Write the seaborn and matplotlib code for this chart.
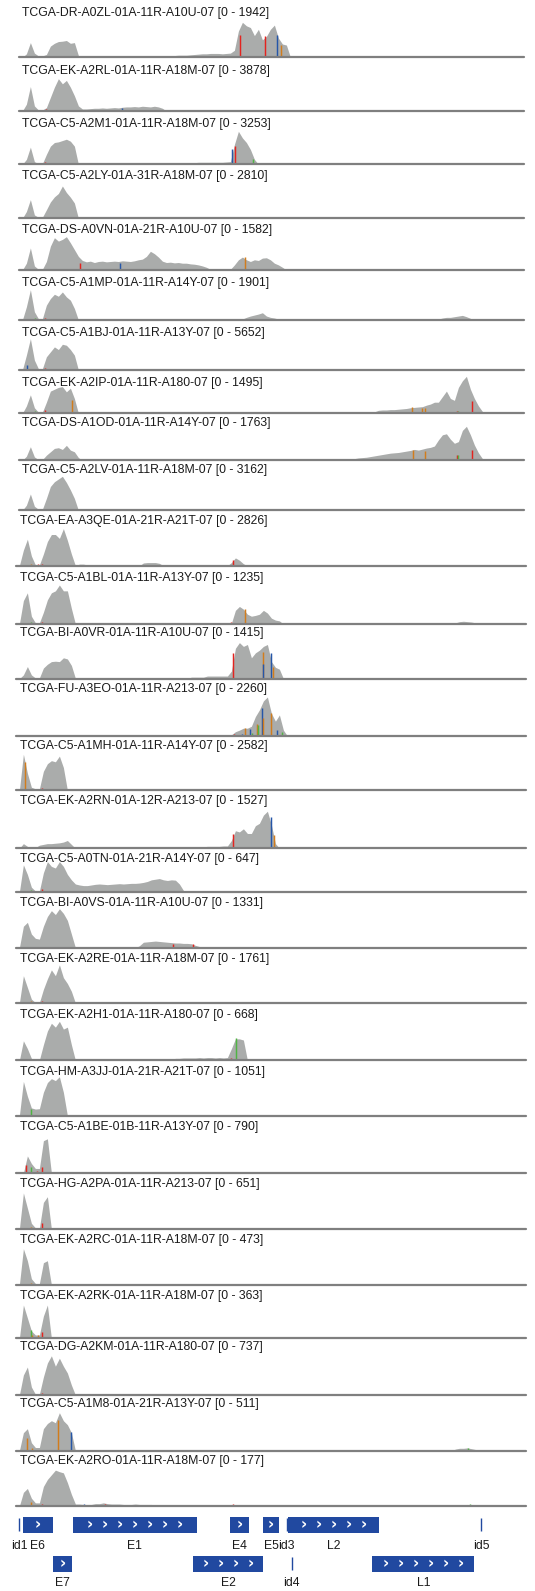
import numpy as np
import pandas as pd
import matplotlib
matplotlib.use("Agg")
import matplotlib.pyplot as plt
import seaborn as sns

sns.set_theme(style="white")
plt.rcParams['font.family'] = ['Liberation Sans', 'DejaVu Sans']

# ---------------------------------------------------------------- data
GENOME_LEN = 7906          # HPV16 genome length (bp)
BIN_BP = 62.64             # coverage bin width (bp)

TRACK_NAMES = [
    "TCGA-DR-A0ZL-01A-11R-A10U-07", "TCGA-EK-A2RL-01A-11R-A18M-07",
    "TCGA-C5-A2M1-01A-11R-A18M-07", "TCGA-C5-A2LY-01A-31R-A18M-07",
    "TCGA-DS-A0VN-01A-21R-A10U-07", "TCGA-C5-A1MP-01A-11R-A14Y-07",
    "TCGA-C5-A1BJ-01A-11R-A13Y-07", "TCGA-EK-A2IP-01A-11R-A180-07",
    "TCGA-DS-A1OD-01A-11R-A14Y-07", "TCGA-C5-A2LV-01A-11R-A18M-07",
    "TCGA-EA-A3QE-01A-21R-A21T-07", "TCGA-C5-A1BL-01A-11R-A13Y-07",
    "TCGA-BI-A0VR-01A-11R-A10U-07", "TCGA-FU-A3EO-01A-11R-A213-07",
    "TCGA-C5-A1MH-01A-11R-A14Y-07", "TCGA-EK-A2RN-01A-12R-A213-07",
    "TCGA-C5-A0TN-01A-21R-A14Y-07", "TCGA-BI-A0VS-01A-11R-A10U-07",
    "TCGA-EK-A2RE-01A-11R-A18M-07", "TCGA-EK-A2H1-01A-11R-A180-07",
    "TCGA-HM-A3JJ-01A-21R-A21T-07", "TCGA-C5-A1BE-01B-11R-A13Y-07",
    "TCGA-HG-A2PA-01A-11R-A213-07", "TCGA-EK-A2RC-01A-11R-A18M-07",
    "TCGA-EK-A2RK-01A-11R-A18M-07", "TCGA-DG-A2KM-01A-11R-A180-07",
    "TCGA-C5-A1M8-01A-21R-A13Y-07", "TCGA-EK-A2RO-01A-11R-A18M-07",
]
TRACK_MAX = [1942, 3878, 3253, 2810, 1582, 1901, 5652, 1495, 1763, 3162,
             2826, 1235, 1415, 2260, 2582, 1527, 647, 1331, 1761, 668,
             1051, 790, 651, 473, 363, 737, 511, 177]

# coverage in % of the track data range, as runs (first bin index, values)
cov_01 = [(0, [0, 10, 42, 12, 4, 4, 8, 32, 40, 45, 46, 48, 40, 42, 5,
               1, 1, 1, 1, 1, 1, 1, 1, 1, 1, 1, 1, 1, 1, 1, 1, 1,
               3, 4, 4, 4, 5, 5, 5, 6, 6, 6, 7, 8, 9,
               10, 10, 11, 11, 11, 10, 11, 12,
               20, 75, 100, 90, 85, 62, 80, 50, 60, 80, 92, 55, 38, 35])]
cov_02 = [(0, [0, 20, 72, 15, 3, 3, 10, 40, 70, 95, 80, 90, 70, 45, 15,
               6, 6, 7, 8, 8, 9, 8, 9, 10, 9, 11, 12, 12, 13, 12, 14, 13, 12, 14, 12, 8])]
cov_03 = [(0, [0, 15, 52, 8, 2, 2, 30, 55, 66, 68, 72, 76, 70, 55]),
          (30, [3, 3, 4, 4, 4, 4, 3, 4, 4, 4, 5, 4, 4,
                5, 6, 6, 6, 6, 6, 6, 6, 7, 8,
                60, 100, 80, 66, 45, 15])]
cov_04 = [(0, [0, 20, 55, 10, 3, 3, 25, 48, 63, 73, 95, 76, 62, 45])]
cov_05 = [(0, [0, 20, 65, 12, 2, 2, 25, 70, 95, 85, 90, 98, 80, 60, 40,
               28, 24, 26, 22, 25, 26, 24, 25, 26, 25, 27, 26, 25, 27, 30,
               32, 40, 55, 48, 38, 26, 22, 23, 21, 22, 20, 20, 18, 17, 15, 12, 8,
               2, 2, 2, 2, 2, 2,
               15, 30, 38, 30, 25, 30, 28, 35, 36, 30, 20, 15, 8])]
cov_06 = [(0, [0, 40, 92, 25, 4, 4, 45, 65, 78, 72, 85, 70, 60, 35]),
          (55, [3, 8, 12, 15, 18, 22, 12, 8, 6, 3]),
          (89, [2, 2, 1, 2, 2, 2, 1, 2, 2, 2, 2, 3, 2, 2, 3, 3,
                6, 8, 8, 10, 12, 14, 10, 5])]
cov_07 = [(0, [0, 45, 95, 30, 4, 4, 40, 55, 70, 62, 78, 75, 62, 45])]
cov_08 = [(0, [0, 20, 50, 15, 3, 3, 30, 60, 65, 70, 72, 58, 68, 40]),
          (88, [4, 8, 9, 9, 10, 10, 11, 12, 13, 15, 16, 17, 18, 22, 25, 30,
                30, 45, 60, 40, 35, 70, 88, 100, 65, 40, 20, 5])]
cov_09 = [(0, [0, 12, 40, 10, 2, 2, 15, 25, 35, 37, 32, 44, 30, 25, 8]),
          (67, [1, 1, 1, 1, 2, 1, 1, 2, 1, 1, 2, 2, 1, 2, 2]),
          (82, [4, 5, 7, 8, 9, 11, 13, 15, 17, 19, 21, 22, 23, 25, 27, 29, 32,
                30, 33, 36, 38, 42, 60, 75, 78, 62, 50, 55, 88, 100, 75, 45, 22, 5])]
cov_10 = [(0, [0, 15, 48, 12, 3, 3, 35, 70, 84, 92, 100, 82, 60, 35]),
          (33, [2])]
cov_11 = [(0, [0, 40, 68, 25, 2, 2, 30, 62, 80, 80, 70, 95, 65, 30]),
          (15, [4, 4, 2, 0, 3, 3]), (31, [7, 8, 8, 8, 6]), (38, [2]),
          (43, [2]), (53, [8, 20, 14, 5])]
cov_12 = [(0, [0, 60, 80, 20, 3, 3, 30, 62, 80, 85, 100, 85, 85, 40]),
          (43, [2, 2, 2, 2, 2, 2, 2, 2, 2, 2, 2]),
          (54, [35, 45, 38, 25, 20, 22, 25, 35, 28, 15, 10, 8]),
          (79, [2, 2, 2, 1]),
          (87, [3, 3, 2, 3, 3, 3, 3, 3, 2, 3, 3, 3, 3, 3, 3, 3, 2, 3, 3, 3, 3, 3, 3,
                6, 7, 6, 5, 3, 2])]
cov_13 = [(0, [0, 10, 32, 10, 2, 2, 28, 38, 45, 46, 45, 55, 52, 35]),
          (14, [1, 1, 1, 1, 1, 1, 1, 1, 1, 1, 1, 1, 1, 1, 1, 1, 1, 1, 1, 1,
                1, 1, 1, 1, 1, 1, 1, 1, 1]),
          (43, [4, 4, 4, 4, 7, 7, 7, 7, 7, 7]),
          (53, [20, 80, 95, 85, 90, 55, 68, 75, 85, 90, 45, 30, 25])]
cov_14 = [(10, [2, 2, 2, 2]),
          (53, [3, 11, 15, 20, 20, 25, 50, 67, 90, 100, 58, 38, 54, 15])]
cov_15 = [(0, [0, 95, 45, 8, 4, 4, 50, 70, 78, 75, 90, 60])]
cov_16 = [(1, [12, 5, 0, 2, 8, 10, 12, 12, 13, 14, 16, 20, 10]),
          (25, [1, 1, 1, 1, 1, 1, 1, 1, 1, 1, 1, 1, 1]),
          (38, [3, 3, 3, 4, 4, 4, 4, 4, 4, 5, 5, 5, 5, 6, 6]),
          (53, [20, 45, 42, 50, 38, 38, 58, 64, 85, 95, 60, 12])]
cov_17 = [(0, [0, 85, 55, 15, 3, 3, 60, 95, 80, 75, 95, 80, 55, 38, 25, 22, 20, 20, 22, 24,
               25, 24, 23, 24, 25, 26, 25, 26, 27, 27, 28, 30, 33, 38, 40, 42, 38, 36, 38, 37,
               25, 5])]
cov_18 = [(0, [0, 55, 65, 35, 24, 22, 55, 80, 95, 85, 100, 88, 70, 35]),
          (30, [5, 14, 15, 16, 17, 16, 15, 14, 13, 12, 12, 11, 11, 10, 6, 3]),
          (56, [2, 2, 1, 2, 2, 1, 2, 2]),
          (90, [2, 0, 0, 0, 0, 2, 2, 0, 0, 0, 2, 2, 0, 0, 0, 2, 2, 2, 2])]
cov_19 = [(0, [0, 70, 40, 10, 1, 1, 35, 62, 85, 70, 98, 65, 50, 30])]
cov_20 = [(0, [0, 50, 30, 5, 1, 1, 40, 75, 95, 85, 100, 80, 85, 40]),
          (29, [2, 2, 2, 2, 2, 2, 2, 2, 2, 2]),
          (39, [5, 5, 6, 6, 6, 6, 7, 6, 7, 7, 6, 7, 6, 7]),
          (53, [30, 55, 55, 52])]
cov_21 = [(0, [0, 88, 50, 20, 17, 18, 60, 85, 95, 90, 100, 60])]
cov_22 = [(0, [0, 0, 45, 25, 12, 12, 85, 90])]
cov_23 = [(0, [0, 95, 55, 15, 3, 3, 70, 85])]
cov_24 = [(0, [0, 90, 60, 15, 3, 3, 55, 60])]
cov_25 = [(0, [0, 90, 55, 20, 9, 9, 60, 90])]
cov_26 = [(0, [0, 50, 70, 20, 2, 2, 45, 80, 98, 72, 92, 72, 55, 25, 0, 2]),
          (31, [1, 0, 1, 1])]
cov_27 = [(0, [0, 45, 55, 20, 8, 8, 55, 68, 75, 70, 95, 75, 65, 45]),
          (109, [4, 6, 6, 7, 5, 3])]
cov_28 = [(0, [0, 35, 45, 20, 8, 8, 50, 68, 80, 92, 88, 85, 60, 30, 5, 5, 4, 4, 4, 6,
               6, 8, 6, 5, 5, 5, 4, 4, 4, 5, 4, 4, 4, 4, 2]),
          (53, [3, 3, 3, 3, 3, 2]),
          (105, [3, 3, 0, 2, 3, 3, 3, 4, 3, 0, 2])]

COVERAGE = [cov_01, cov_02, cov_03, cov_04, cov_05, cov_06, cov_07, cov_08, cov_09,
            cov_10, cov_11, cov_12, cov_13, cov_14, cov_15, cov_16, cov_17, cov_18,
            cov_19, cov_20, cov_21, cov_22, cov_23, cov_24, cov_25, cov_26, cov_27, cov_28]

# mismatched bases: (position bp, height % of range, base)
mm_01 = [(3439, 63, 'T'), (3830, 60, 'T'), (4018, 63, 'C'), (4081, 35, 'G'), (401, 5, 'T'), (2953, 5, 'G')]
mm_02 = [(1591, 10, 'C'), (401, 6, 'T'), (244, 4, 'A')]
mm_03 = [(3314, 45, 'C'), (3361, 55, 'T'), (3643, 15, 'A'), (2423, 3, 'T'), (2875, 5, 'G'), (229, 4, 'G'), (385, 6, 'T')]
mm_04 = [(229, 4, 'G'), (385, 4, 'T')]
mm_05 = [(933, 22, 'T'), (1560, 22, 'C'), (2859, 4, 'G'), (3517, 38, 'G'), (385, 4, 'T'), (229, 3, 'G')]
mm_06 = [(229, 5, 'A'), (385, 6, 'T')]
mm_07 = [(103, 15, 'C'), (229, 4, 'G'), (385, 5, 'T')]
mm_08 = [(808, 36, 'G'), (385, 10, 'T'), (229, 5, 'A'), (6132, 18, 'G'), (6289, 15, 'G'),
         (6336, 15, 'G'), (6837, 6, 'T'), (6853, 6, 'A'), (7072, 33, 'T'), (1122, 3, 'T')]
mm_09 = [(6148, 30, 'G'), (6336, 28, 'G'), (6837, 15, 'T'), (6853, 15, 'A'), (7072, 30, 'T'),
         (4300, 2, 'T'), (4425, 2, 'C'), (5161, 2, 'T'), (103, 3, 'C'), (385, 3, 'T')]
mm_10 = [(229, 3, 'G'), (307, 3, 'G'), (385, 4, 'T')]
mm_11 = [(3376, 15, 'T'), (213, 4, 'G'), (323, 4, 'T'), (385, 4, 'T')]
mm_12 = [(3564, 38, 'G'), (3345, 4, 'T'), (385, 5, 'T'), (213, 4, 'A'), (2906, 3, 'G')]
mm_13 = [(3376, 67, 'T'), (3846, 71, 'G'), (3846, 40, 'C'), (3971, 67, 'C'), (4003, 32, 'G'),
         (2906, 3, 'G'), (1043, 2, 'C'), (213, 3, 'G'), (385, 3, 'T')]
mm_14 = [(3831, 71, 'C'), (3846, 45, 'G'), (3768, 28, 'A'), (3752, 30, 'G'), (3643, 17, 'C'),
         (3564, 20, 'G'), (3674, 8, 'A'), (3517, 6, 'C'), (3392, 5, 'T'), (3971, 58, 'G'),
         (4065, 15, 'C'), (4143, 10, 'A')]
mm_15 = [(119, 75, 'G'), (213, 4, 'G'), (385, 6, 'T'), (323, 4, 'G')]
mm_16 = [(3376, 36, 'T'), (3971, 79, 'C'), (4018, 34, 'G'), (2906, 3, 'G')]
mm_17 = [(213, 5, 'A'), (385, 8, 'T')]
mm_18 = [(2437, 10, 'T'), (2750, 10, 'T'), (3971, 3, 'C')]
mm_19 = [(213, 4, 'G'), (385, 5, 'T')]
mm_20 = [(3423, 56, 'A'), (3345, 5, 'T'), (2906, 3, 'G'), (213, 4, 'G'), (385, 4, 'T')]
mm_21 = [(213, 17, 'A')]
mm_22 = [(135, 21, 'T'), (213, 15, 'A'), (307, 5, 'T'), (385, 15, 'T')]
mm_23 = [(213, 5, 'G'), (385, 17, 'T')]
mm_24 = [(213, 5, 'G')]
mm_25 = [(213, 23, 'A'), (229, 10, 'G'), (323, 8, 'G'), (385, 18, 'T')]
mm_26 = [(385, 4, 'T')]
mm_27 = [(150, 32, 'G'), (636, 77, 'G'), (839, 48, 'C'), (7056, 7, 'A'), (229, 8, 'G')]
mm_28 = [(213, 10, 'G'), (385, 6, 'T'), (1043, 4, 'C'), (1371, 4, 'T'), (1497, 3, 'C'),
         (3376, 5, 'T'), (7088, 4, 'A')]

MISMATCH = [mm_01, mm_02, mm_03, mm_04, mm_05, mm_06, mm_07, mm_08, mm_09, mm_10,
            mm_11, mm_12, mm_13, mm_14, mm_15, mm_16, mm_17, mm_18, mm_19, mm_20,
            mm_21, mm_22, mm_23, mm_24, mm_25, mm_26, mm_27, mm_28]

# gene annotation (HPV16)
GENE_NAMES = ["id1", "E6", "E7", "E1", "E2", "E4", "E5", "id3", "id4", "L2", "L1", "id5"]
GENE_START = [25, 83, 562, 865, 2755, 3332, 3849, 4218, 4295, 4236, 5560, 7259]
GENE_END   = [25, 559, 858, 2813, 3852, 3619, 4100, 4218, 4295, 5657, 7155, 7259]
GENE_ROW   = [0, 0, 1, 0, 1, 0, 0, 0, 1, 0, 1, 0]

# ---------------------------------------------------------------- layout (pixels)
W, H = 535, 1591
PX_PER_BP = 0.06386
BASELINE_Y = [57.3, 111, 164.3, 218.3, 270, 320, 370, 413.3, 460.3, 510.3,
              565.7, 624, 678.7, 736, 790.3, 848.3, 892, 947.7, 1003, 1060.3,
              1115.7, 1173, 1229, 1284.7, 1338.3, 1395, 1450.7, 1506]
LABEL_Y = [13, 70.7, 124, 176, 230, 282.7, 332.7, 382.7, 423.3, 470,
           520.7, 577.7, 633.3, 689.3, 746, 801, 859, 903.3, 959, 1015,
           1071.7, 1126.7, 1184.3, 1240, 1296, 1347.3, 1404, 1460.7]
TRACK_H = [35, 34, 33, 34, 34, 33, 33, 37, 34, 34,
           39, 39, 38, 39, 38, 39, 32, 39, 39, 39,
           39, 38, 38, 40, 37, 40, 40, 39]

COV_COLOR = "#aaacab"
LINE_COLOR = "#7f7f7f"
BASE_COLORS = {'A': '#4fb443', 'C': '#2556a8', 'G': '#d17c1c', 'T': '#e3231f'}
GENE_COLOR = "#2149a0"
FONT_SIZE = 8.8

fig = plt.figure(figsize=(W / 100, H / 100), dpi=100)


def fx(px):
    return px / W


def fy(py):
    return 1 - py / H


NB = int(np.ceil(GENOME_LEN / BIN_BP))
edges = (np.arange(NB + 1) * BIN_BP).tolist()
centers = [(edges[i] + edges[i + 1]) / 2 for i in range(NB)]

for k in range(len(TRACK_NAMES)):
    g1 = k < 10
    p0 = 20.4 if g1 else 17.4
    L, R = (19, 524) if g1 else (16, 526)
    base = BASELINE_Y[k]
    th = TRACK_H[k]
    ax = fig.add_axes([fx(L), fy(base), (R - L) / W, th / H])
    vals = np.zeros(NB)
    for start, run in COVERAGE[k]:
        vals[start:start + len(run)] = run
    df = pd.DataFrame({"pos": centers, "cov": vals})
    sns.histplot(data=df, x="pos", weights="cov", bins=edges, element="poly", fill=True,
                 color=COV_COLOR, alpha=1, linewidth=0, ax=ax)
    for pos, hgt, b in sorted(MISMATCH[k], key=lambda t: -t[1]):
        ax.vlines(pos, 0, hgt, colors=BASE_COLORS[b], linewidth=1.05)
    ax.axhline(0, color=LINE_COLOR, linewidth=1.6, clip_on=False)
    ax.set_xlim((L - p0) / PX_PER_BP, (R - p0) / PX_PER_BP)
    ax.set_ylim(0, 100)
    ax.set_axis_off()
    fig.text(fx(22.5 if g1 else 19.5), fy(LABEL_Y[k]),
             f"{TRACK_NAMES[k]} [0 - {TRACK_MAX[k]}]",
             fontsize=FONT_SIZE, color="#1a1a1a", ha="left", va="center")

# gene track
gL, gR, gp0 = 16, 526, 17.4
gax = fig.add_axes([fx(gL), 0, (gR - gL) / W, (H - 1508) / H])
gax.set_xlim((gL - gp0) / PX_PER_BP, (gR - gp0) / PX_PER_BP)
gax.set_ylim(H, 1508)
gax.set_axis_off()
ROW_Y = [1525, 1564]
ROW_LABEL_Y = [1546.5, 1583.5]
BOX_H = 15.5
for name, s, e, r in zip(GENE_NAMES, GENE_START, GENE_END, GENE_ROW):
    yc = ROW_Y[r]
    if e - s < 10:
        gax.vlines(s, yc - 6.5, yc + 6.5, colors=GENE_COLOR, linewidth=1.0)
    else:
        gax.barh(yc, e - s, left=s, height=BOX_H, color=GENE_COLOR, linewidth=0)
        wpx = (e - s) * PX_PER_BP
        n = max(1, int(round((wpx - 15) / 15)))
        cpx = (s + e) / 2
        step = 15 / PX_PER_BP
        for j in range(n):
            xc = cpx + (j - (n - 1) / 2) * step
            gax.text(xc, yc, "\u203a", color="white", fontsize=11, fontweight="bold",
                     ha="center", va="center", family="DejaVu Sans")
    gax.text((s + e) / 2, ROW_LABEL_Y[r], name, fontsize=FONT_SIZE, color="#1a1a1a",
             ha="center", va="center")

fig.savefig("out.png", dpi=100)
